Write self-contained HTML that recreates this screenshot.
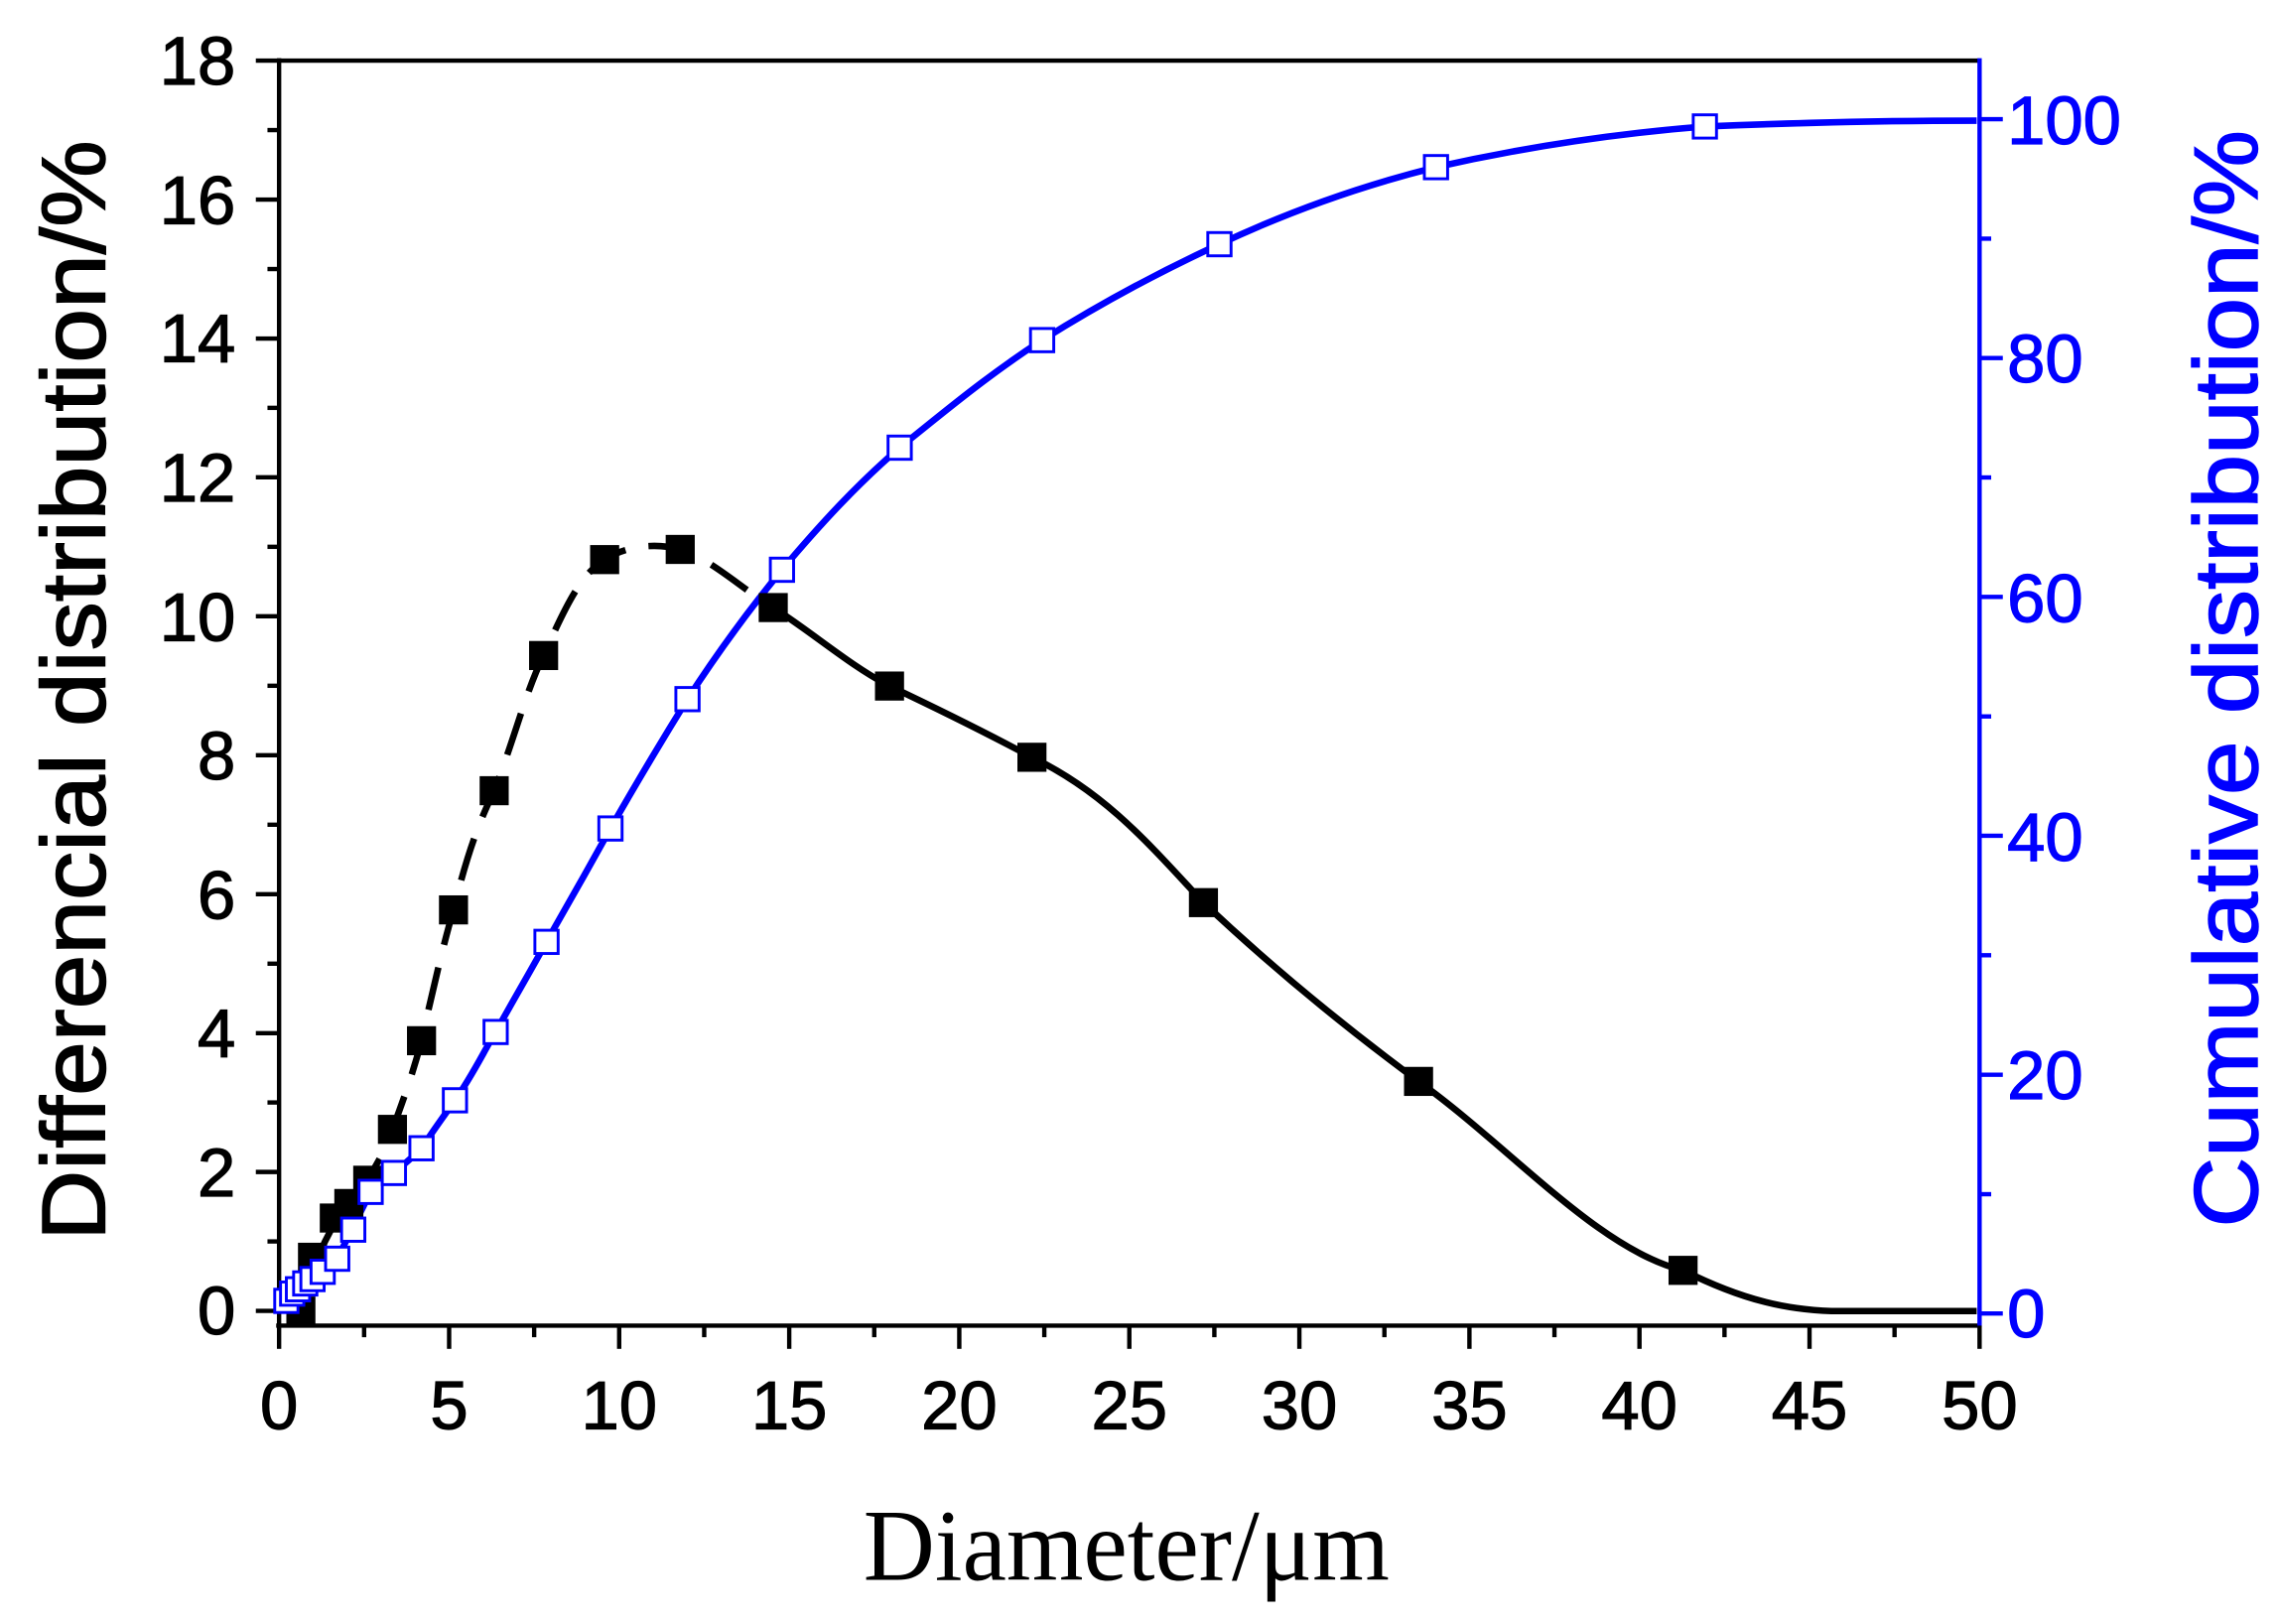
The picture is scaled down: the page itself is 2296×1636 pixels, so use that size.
<!DOCTYPE html>
<html><head><meta charset="utf-8"><style>html,body{margin:0;padding:0;background:#fff}svg{display:block}</style></head>
<body>
<svg width="2296" height="1636" viewBox="0 0 1568 1117.3" xmlns="http://www.w3.org/2000/svg" font-family="Liberation Sans, sans-serif">
<rect width="1568" height="1118" fill="#fff"/>
<line x1="192" y1="41.7" x2="1362" y2="41.7" stroke="#000" stroke-width="3"/>
<line x1="192" y1="40" x2="192" y2="913" stroke="#000" stroke-width="3"/>
<line x1="190" y1="912" x2="1362" y2="912" stroke="#000" stroke-width="3"/>
<line x1="1362" y1="40" x2="1362" y2="913" stroke="#0000ff" stroke-width="3"/>
<g stroke="#000" stroke-width="3">
<line x1="176" y1="41.7" x2="192" y2="41.7"/><line x1="176" y1="137.3" x2="192" y2="137.3"/><line x1="176" y1="232.9" x2="192" y2="232.9"/><line x1="176" y1="328.4" x2="192" y2="328.4"/><line x1="176" y1="424" x2="192" y2="424"/><line x1="176" y1="519.6" x2="192" y2="519.6"/><line x1="176" y1="615.2" x2="192" y2="615.2"/><line x1="176" y1="710.8" x2="192" y2="710.8"/><line x1="176" y1="806.3" x2="192" y2="806.3"/><line x1="176" y1="901.9" x2="192" y2="901.9"/>
<line x1="184" y1="89.5" x2="192" y2="89.5"/><line x1="184" y1="185.1" x2="192" y2="185.1"/><line x1="184" y1="280.6" x2="192" y2="280.6"/><line x1="184" y1="376.2" x2="192" y2="376.2"/><line x1="184" y1="471.8" x2="192" y2="471.8"/><line x1="184" y1="567.4" x2="192" y2="567.4"/><line x1="184" y1="663" x2="192" y2="663"/><line x1="184" y1="758.5" x2="192" y2="758.5"/><line x1="184" y1="854.1" x2="192" y2="854.1"/>
</g>
<g font-size="47" text-anchor="end" fill="#000" stroke="#000" stroke-width="0.8">
<text x="162" y="58">18</text><text x="162" y="154">16</text><text x="162" y="249">14</text><text x="162" y="345">12</text><text x="162" y="441">10</text><text x="162" y="536">8</text><text x="162" y="632">6</text><text x="162" y="727">4</text><text x="162" y="823">2</text><text x="162" y="918">0</text>
</g>
<g stroke="#000" stroke-width="3">
<line x1="192" y1="912" x2="192" y2="928"/><line x1="309" y1="912" x2="309" y2="928"/><line x1="426" y1="912" x2="426" y2="928"/><line x1="543" y1="912" x2="543" y2="928"/><line x1="660" y1="912" x2="660" y2="928"/><line x1="777" y1="912" x2="777" y2="928"/><line x1="894" y1="912" x2="894" y2="928"/><line x1="1011" y1="912" x2="1011" y2="928"/><line x1="1128" y1="912" x2="1128" y2="928"/><line x1="1245" y1="912" x2="1245" y2="928"/><line x1="1362" y1="912" x2="1362" y2="928"/>
<line x1="250.5" y1="912" x2="250.5" y2="920"/><line x1="367.5" y1="912" x2="367.5" y2="920"/><line x1="484.5" y1="912" x2="484.5" y2="920"/><line x1="601.5" y1="912" x2="601.5" y2="920"/><line x1="718.5" y1="912" x2="718.5" y2="920"/><line x1="835.5" y1="912" x2="835.5" y2="920"/><line x1="952.5" y1="912" x2="952.5" y2="920"/><line x1="1069.5" y1="912" x2="1069.5" y2="920"/><line x1="1186.5" y1="912" x2="1186.5" y2="920"/><line x1="1303.5" y1="912" x2="1303.5" y2="920"/>
</g>
<g font-size="47" text-anchor="middle" fill="#000" stroke="#000" stroke-width="0.8">
<text x="192" y="983">0</text><text x="309" y="983">5</text><text x="426" y="983">10</text><text x="543" y="983">15</text><text x="660" y="983">20</text><text x="777" y="983">25</text><text x="894" y="983">30</text><text x="1011" y="983">35</text><text x="1128" y="983">40</text><text x="1245" y="983">45</text><text x="1362" y="983">50</text>
</g>
<g stroke="#0000ff" stroke-width="3">
<line x1="1362" y1="82" x2="1378" y2="82"/><line x1="1362" y1="246.3" x2="1378" y2="246.3"/><line x1="1362" y1="410.7" x2="1378" y2="410.7"/><line x1="1362" y1="575" x2="1378" y2="575"/><line x1="1362" y1="739.4" x2="1378" y2="739.4"/><line x1="1362" y1="903.7" x2="1378" y2="903.7"/>
<line x1="1362" y1="164.2" x2="1370" y2="164.2"/><line x1="1362" y1="328.5" x2="1370" y2="328.5"/><line x1="1362" y1="492.9" x2="1370" y2="492.9"/><line x1="1362" y1="657.2" x2="1370" y2="657.2"/><line x1="1362" y1="821.6" x2="1370" y2="821.6"/>
</g>
<g font-size="47" fill="#0000ff" stroke="#0000ff" stroke-width="0.8">
<text x="1381" y="99">100</text><text x="1381" y="263">80</text><text x="1381" y="428">60</text><text x="1381" y="592">40</text><text x="1381" y="756">20</text><text x="1381" y="920">0</text>
</g>
<text x="775" y="1087" font-family="Liberation Serif, serif" font-size="70" text-anchor="middle" textLength="362" lengthAdjust="spacingAndGlyphs" fill="#000">Diameter/μm</text>
<text transform="translate(72,475) rotate(-90)" font-size="62" text-anchor="middle" textLength="757" lengthAdjust="spacingAndGlyphs" fill="#000" stroke="#000" stroke-width="1">Differencial distribution/%</text>
<text transform="translate(1553,467) rotate(-90)" font-size="62" text-anchor="middle" textLength="755" lengthAdjust="spacingAndGlyphs" fill="#0000ff" stroke="#0000ff" stroke-width="1">Cumulative distribution/%</text>
<path d="M207,905 C212,880 222,850 240,828 C250,816 262,800 270,777 C280,750 285,735 290,716 C298,680 305,650 312,626 C322,585 330,565 340,544 C355,505 362,475 374,451 C390,415 400,395 416,385 C430,376 450,373 468,378 C490,385 510,405 532,418" fill="none" stroke="#000" stroke-width="4.5" stroke-dasharray="30 16"/>
<path d="M532,418 C560,436 585,458 612,472 C650,490 680,505 710,521 C760,545 790,580 828,621 C880,670 930,710 976,744 C1040,790 1100,860 1158,874 C1200,895 1230,901 1260,902 L1360,902" fill="none" stroke="#000" stroke-width="4.5"/>
<path d="M197,895 L215,880 L232,866 L255,820 C265,812 280,800 290,790 C300,775 306,767 313,757 C325,740 332,725 341,710 C355,685 365,668 376,648 C392,620 405,597 420,570 C440,535 455,510 473,481 C495,447 515,420 538,392 C565,360 590,333 619,308 C650,283 680,258 717,234 C760,207 800,186 839,168 C890,144 940,127 988,115 C1050,101 1110,92 1173,87 C1250,84 1300,83 1360,83" fill="none" stroke="#0000ff" stroke-width="4.5"/>
<g fill="#000">
<rect x="197" y="892" width="20" height="20"/><rect x="205" y="855" width="20" height="20"/><rect x="220" y="828" width="20" height="20"/><rect x="230" y="818" width="20" height="20"/><rect x="243" y="802" width="20" height="20"/><rect x="260" y="767" width="20" height="20"/><rect x="280" y="706" width="20" height="20"/><rect x="302" y="616" width="20" height="20"/><rect x="330" y="534" width="20" height="20"/><rect x="364" y="441" width="20" height="20"/><rect x="406" y="375" width="20" height="20"/><rect x="458" y="368" width="20" height="20"/><rect x="522" y="408" width="20" height="20"/><rect x="602" y="462" width="20" height="20"/><rect x="700" y="511" width="20" height="20"/><rect x="818" y="611" width="20" height="20"/><rect x="966" y="734" width="20" height="20"/><rect x="1148" y="864" width="20" height="20"/>
</g>
<g fill="#fff" stroke="#0000ff" stroke-width="2">
<rect x="189" y="887" width="16" height="16"/><rect x="193" y="882" width="16" height="16"/><rect x="197" y="879" width="16" height="16"/><rect x="202" y="875" width="16" height="16"/><rect x="207" y="872" width="16" height="16"/><rect x="214" y="867" width="16" height="16"/><rect x="224" y="858" width="16" height="16"/><rect x="235" y="838" width="16" height="16"/><rect x="247" y="812" width="16" height="16"/><rect x="263" y="799" width="16" height="16"/><rect x="282" y="782" width="16" height="16"/><rect x="305" y="749" width="16" height="16"/><rect x="333" y="702" width="16" height="16"/><rect x="368" y="640" width="16" height="16"/><rect x="412" y="562" width="16" height="16"/><rect x="465" y="473" width="16" height="16"/><rect x="530" y="384" width="16" height="16"/><rect x="611" y="300" width="16" height="16"/><rect x="709" y="226" width="16" height="16"/><rect x="831" y="160" width="16" height="16"/><rect x="980" y="107" width="16" height="16"/><rect x="1165" y="79" width="16" height="16"/>
</g>
</svg>
</body></html>
